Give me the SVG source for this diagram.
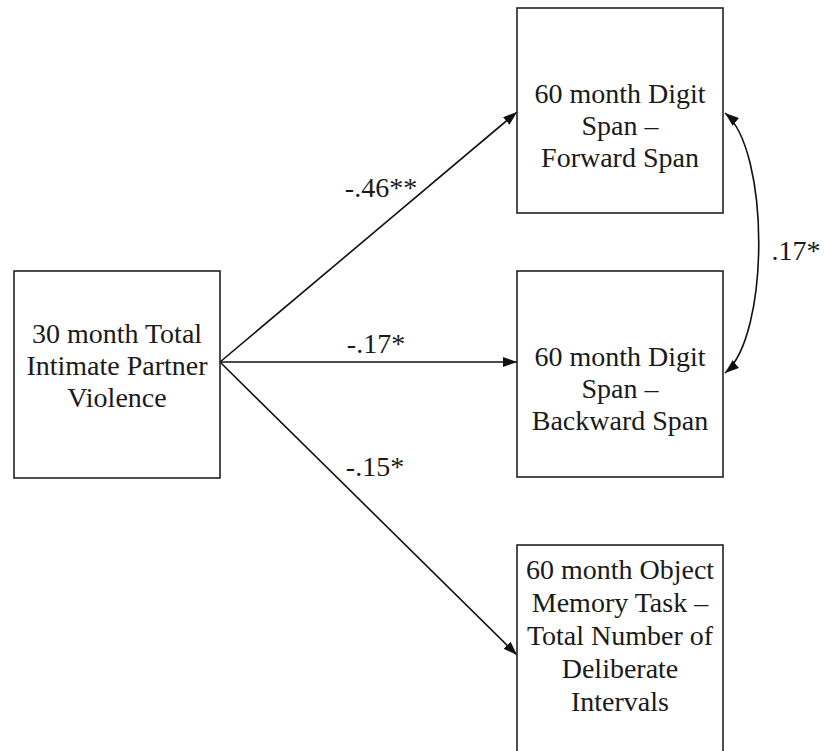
<svg xmlns="http://www.w3.org/2000/svg" width="825" height="751" viewBox="0 0 825 751">
<style>
.box{fill:#fff;stroke:#222;stroke-width:1.6}
text{font-family:"Liberation Serif","Times New Roman",Times,"DejaVu Serif",serif;font-size:28px;fill:#1a1a1a;text-anchor:middle}
.c{fill:none;stroke:#111;stroke-width:1.6}
</style>
<defs>
<marker id="ah" viewBox="0 0 14 10" refX="14" refY="5" markerWidth="14" markerHeight="10" markerUnits="userSpaceOnUse" orient="auto-start-reverse">
<path d="M0,0 L14,5 L0,10 Z" fill="#111"/>
</marker>
</defs>
<rect width="825" height="751" fill="#fff"/>
<g id="connectors">
<line class="c" x1="220" y1="362" x2="517" y2="112" marker-end="url(#ah)"/>
<line class="c" x1="220" y1="362" x2="517" y2="362" marker-end="url(#ah)"/>
<line class="c" x1="220" y1="362" x2="517" y2="655" marker-end="url(#ah)"/>
<path class="c" d="M725,113 C770,150 770,336 725,373" marker-start="url(#ah)" marker-end="url(#ah)"/>
<text x="381" y="197" font-family="Liberation Serif, serif">-.46**</text>
<text x="376" y="353" font-family="Liberation Serif, serif">-.17*</text>
<text x="375" y="476" font-family="Liberation Serif, serif">-.15*</text>
<text x="796" y="260" font-family="Liberation Serif, serif">.17*</text>
</g>
<g id="ipv" font-family="Liberation Serif, serif">
<rect class="box" x="14" y="271" width="206" height="207"/>
<text x="117" y="343">30 month Total</text>
<text x="117" y="375">Intimate Partner</text>
<text x="117" y="407">Violence</text>
</g>
<g id="forward">
<rect class="box" x="517" y="8" width="206" height="205"/>
<text x="620" y="103">60 month Digit</text>
<text x="620" y="135">Span –</text>
<text x="620" y="167">Forward Span</text>
</g>
<g id="backward">
<rect class="box" x="517" y="271" width="206" height="206"/>
<text x="620" y="366">60 month Digit</text>
<text x="620" y="398">Span –</text>
<text x="620" y="430">Backward Span</text>
</g>
<g id="object">
<rect class="box" x="517" y="545" width="206" height="230"/>
<text x="620" y="579">60 month Object</text>
<text x="620" y="612">Memory Task –</text>
<text x="620" y="645">Total Number of</text>
<text x="620" y="678">Deliberate</text>
<text x="620" y="711">Intervals</text>
</g>
</svg>
